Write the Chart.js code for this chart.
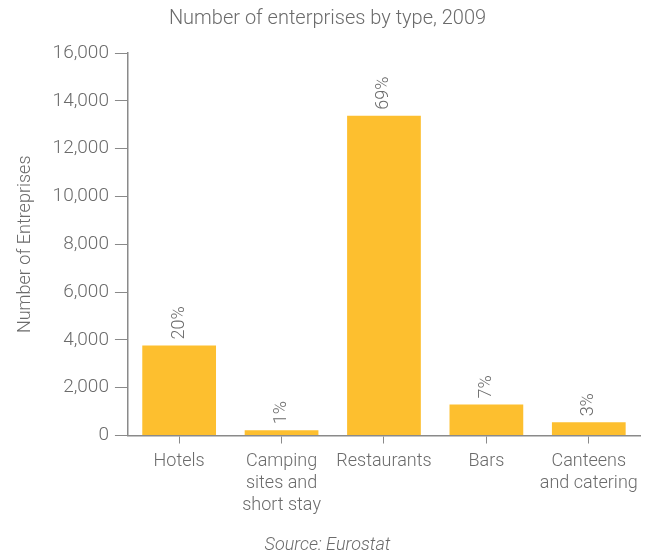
<!DOCTYPE html>
<html>
<head>
<meta charset="utf-8">
<script src="https://cdn.jsdelivr.net/npm/chart.js@4"></script>
<style>
  html, body { margin: 0; padding: 0; background: #fff; }
  #wrap { width: 654px; height: 553px; position: relative; }
</style>
</head>
<body>
<div id="wrap"><canvas id="chart"></canvas></div>
<script>
// data
const categories = [
  ['Hotels'],
  ['Camping', 'sites and', 'short stay'],
  ['Restaurants'],
  ['Bars'],
  ['Canteens', 'and catering']
];
const enterprises = [3770, 220, 13380, 1300, 550];
const shares = ['20%', '1%', '69%', '7%', '3%'];

const textColor = '#6b6b6b';
const axisColor = '#8a8a8a';
const fontFamily = 'Roboto, "Liberation Sans", sans-serif';

// draws the rotated percentage labels above each bar
const shareLabels = {
  id: 'shareLabels',
  afterDatasetsDraw(chart) {
    const ctx = chart.ctx;
    const meta = chart.getDatasetMeta(0);
    ctx.save();
    ctx.fillStyle = textColor;
    ctx.font = '300 18px ' + fontFamily;
    ctx.textAlign = 'left';
    ctx.textBaseline = 'middle';
    meta.data.forEach((bar, i) => {
      ctx.save();
      ctx.translate(bar.x, bar.y - 6);
      ctx.rotate(-Math.PI / 2);
      ctx.fillText(shares[i], 0, 0);
      ctx.restore();
    });
    ctx.restore();
  }
};

const ctx = document.getElementById('chart').getContext('2d');
new Chart(ctx, {
  type: 'bar',
  data: {
    labels: categories,
    datasets: [{
      data: enterprises,
      backgroundColor: '#FDBF2F',
      borderWidth: 0,
      barPercentage: 0.72,
      categoryPercentage: 1
    }]
  },
  options: {
    responsive: true,
    maintainAspectRatio: false,
    animation: false,
    layout: { padding: { left: 15, right: 14, top: 4, bottom: -3 } },
    plugins: {
      legend: { display: false },
      tooltip: { enabled: false },
      title: {
        display: true,
        text: 'Number of enterprises by type, 2009',
        color: textColor,
        font: { family: fontFamily, size: 20, weight: '300' },
        padding: { top: 3, bottom: 22 }
      },
      subtitle: {
        display: true,
        position: 'bottom',
        text: 'Source: Eurostat',
        color: textColor,
        font: { family: fontFamily, size: 18, style: 'italic', weight: '300' },
        padding: { top: 11, bottom: 0 }
      }
    },
    scales: {
      x: {
        grid: {
          display: true,
          offset: false,
          drawOnChartArea: false,
          drawTicks: true,
          tickLength: 8,
          color: axisColor
        },
        border: { color: axisColor, width: 1.5 },
        ticks: {
          color: textColor,
          font: { family: fontFamily, size: 18, weight: '300', lineHeight: 1.22 },
          maxRotation: 0,
          autoSkip: false,
          padding: 7
        }
      },
      y: {
        min: 0,
        max: 16000,
        grid: {
          display: true,
          drawOnChartArea: false,
          drawTicks: true,
          tickLength: 13,
          color: axisColor
        },
        border: { color: axisColor, width: 1.5 },
        ticks: {
          stepSize: 2000,
          color: textColor,
          font: { family: fontFamily, size: 19, weight: '300' },
          padding: 6,
          callback: v => v.toLocaleString('en-US')
        },
        title: {
          display: true,
          text: 'Number of Entreprises',
          color: textColor,
          font: { family: fontFamily, size: 18, weight: '300' },
          padding: { top: 0, bottom: 10 }
        }
      }
    }
  },
  plugins: [shareLabels]
});
</script>
</body>
</html>
